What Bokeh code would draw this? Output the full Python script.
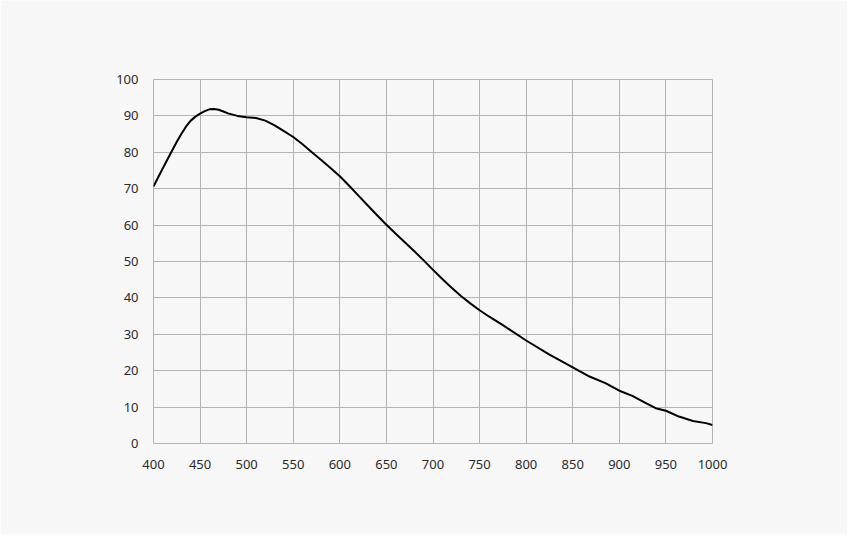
from bokeh.plotting import figure
from bokeh.models import Range1d, FixedTicker
from bokeh.embed import file_html
from bokeh.resources import INLINE

wavelength = [400, 410, 420, 425, 430, 435, 440, 445, 450, 455, 460, 465, 470, 475, 480,
              490, 500, 510, 520, 530, 540, 550, 560, 570, 580, 590, 600, 610, 620, 630,
              640, 650, 660, 670, 680, 690, 700, 710, 720, 730, 740, 750, 760, 775, 800,
              825, 850, 868, 885, 900, 914, 927, 939, 950, 964, 979, 993, 1000]
qe = [70.6, 75.6, 80.5, 82.9, 85.1, 87.1, 88.7, 89.8, 90.6, 91.3, 91.8, 91.9, 91.7, 91.2, 90.7,
      90.0, 89.6, 89.4, 88.7, 87.4, 85.8, 84.2, 82.2, 80.0, 77.9, 75.7, 73.4, 70.8, 68.1, 65.4,
      62.7, 60.1, 57.6, 55.2, 52.8, 50.3, 47.7, 45.2, 42.8, 40.5, 38.5, 36.6, 34.9, 32.5, 28.3,
      24.4, 20.9, 18.4, 16.6, 14.5, 13.1, 11.3, 9.7, 9.0, 7.4, 6.2, 5.6, 5.1]
x_ticks = [400, 450, 500, 550, 600, 650, 700, 750, 800, 850, 900, 950, 1000]
y_ticks = [0, 10, 20, 30, 40, 50, 60, 70, 80, 90, 100]

BG = "#f7f7f7"
GRID = "#b4b4b4"

p = figure(width=847, height=534, output_backend="svg", toolbar_location=None,
           x_range=Range1d(400, 1000), y_range=Range1d(0, 100),
           min_border_left=153, min_border_right=135, min_border_top=79, min_border_bottom=91)
p.background_fill_color = BG
p.border_fill_color = BG
p.outline_line_color = GRID
p.outline_line_width = 1

p.line(wavelength, qe, line_color="black", line_width=2, line_join="round")

for ax in (p.xaxis, p.yaxis):
    ax.axis_line_color = None
    ax.major_tick_line_color = None
    ax.minor_tick_line_color = None
    ax.major_label_text_font = "Noto Sans"
    ax.major_label_text_font_size = "13px"
    ax.major_label_text_color = "#2a2a2a"
p.xaxis.major_label_standoff = 10
p.yaxis.major_label_standoff = 9
p.xaxis.ticker = FixedTicker(ticks=x_ticks)
p.yaxis.ticker = FixedTicker(ticks=y_ticks)
p.xgrid.ticker = FixedTicker(ticks=x_ticks)
p.ygrid.ticker = FixedTicker(ticks=y_ticks)
for g in (p.xgrid, p.ygrid):
    g.grid_line_color = GRID
    g.grid_line_width = 1

html = file_html(p, INLINE)
html = html.replace("<body>", '<body style="background:%s">' % BG, 1)
open("out.html", "w").write(html)
